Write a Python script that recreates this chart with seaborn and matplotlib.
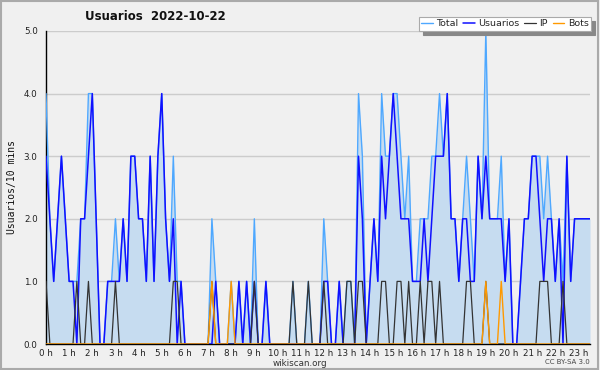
import numpy as np
import pandas as pd
import seaborn as sns
import matplotlib
matplotlib.use("Agg")
import matplotlib.pyplot as plt
from matplotlib.ticker import MultipleLocator, FixedLocator

# values per 10-minute slot
total = [4, 2, 1, 2, 3, 2, 1, 1, 1, 2,
         2, 4, 4, 2, 0, 0, 1, 1, 2, 1,
         2, 1, 3, 3, 2, 2, 1, 3, 1, 3,
         4, 2, 1, 3, 1, 1, 0, 0, 0, 0,
         0, 0, 0, 2, 1, 0, 0, 0, 1, 0,
         1, 0, 1, 0, 2, 0, 0, 1, 0, 0,
         0, 0, 0, 0, 1, 0, 0, 0, 1, 0,
         0, 0, 2, 1, 0, 0, 1, 0, 1, 1,
         0, 4, 3, 0, 1, 2, 1, 4, 3, 3,
         4, 4, 3, 2, 3, 1, 1, 2, 2, 2,
         3, 3, 4, 3, 4, 2, 2, 1, 2, 3,
         2, 1, 3, 2, 5, 2, 2, 2, 3, 1,
         2, 0, 0, 1, 2, 2, 3, 3, 3, 2,
         3, 2, 1, 2, 1, 3, 1, 2, 2, 2,
         2, 2]
usuarios = [3, 2, 1, 2, 3, 2, 1, 1, 0, 2,
            2, 3, 4, 2, 0, 0, 1, 1, 1, 1,
            2, 1, 3, 3, 2, 2, 1, 3, 1, 3,
            4, 2, 1, 2, 0, 1, 0, 0, 0, 0,
            0, 0, 0, 0, 1, 0, 0, 0, 0, 0,
            1, 0, 1, 0, 1, 0, 0, 1, 0, 0,
            0, 0, 0, 0, 0, 0, 0, 0, 0, 0,
            0, 0, 1, 1, 0, 0, 1, 0, 0, 0,
            0, 3, 2, 0, 1, 2, 1, 3, 2, 3,
            4, 3, 2, 2, 2, 1, 1, 1, 2, 1,
            2, 3, 3, 3, 4, 2, 2, 1, 2, 2,
            1, 1, 3, 2, 3, 2, 2, 2, 2, 1,
            2, 0, 0, 1, 2, 2, 3, 3, 2, 1,
            2, 2, 1, 2, 0, 3, 1, 2, 2, 2,
            2, 2]
ip = [1, 0, 0, 0, 0, 0, 0, 0, 1, 0,
      0, 1, 0, 0, 0, 0, 0, 0, 1, 0,
      0, 0, 0, 0, 0, 0, 0, 0, 0, 0,
      0, 0, 0, 1, 1, 0, 0, 0, 0, 0,
      0, 0, 0, 1, 0, 0, 0, 0, 0, 0,
      0, 0, 0, 0, 1, 0, 0, 0, 0, 0,
      0, 0, 0, 0, 1, 0, 0, 0, 1, 0,
      0, 0, 1, 0, 0, 0, 0, 0, 1, 1,
      0, 1, 1, 0, 0, 0, 0, 1, 1, 0,
      0, 1, 1, 0, 1, 0, 0, 1, 0, 1,
      1, 0, 1, 0, 0, 0, 0, 0, 0, 1,
      1, 0, 0, 0, 1, 0, 0, 0, 0, 0,
      0, 0, 0, 0, 0, 0, 0, 0, 1, 1,
      1, 0, 0, 0, 1, 0, 0, 0, 0, 0,
      0, 0]
bots = [0] * 43 + [1, 0, 0, 0, 0, 1] + [0] * 65 + [1, 0, 0, 0, 1] + [0] * 23

hour_labels = [f"{h} h" for h in range(24)]

df = pd.DataFrame({"slot": np.arange(len(total)), "Total": total,
                   "Usuarios": usuarios, "IP": ip, "Bots": bots})

sns.set_style("white")
plt.rcParams["font.family"] = ["DejaVu Sans"]

bg = "#f0f0f0"
fig = plt.figure(figsize=(6, 3.7), dpi=100, facecolor=bg)
ax = fig.add_axes([46 / 600, 26 / 370, 544 / 600, 313 / 370])
ax.set_facecolor(bg)

ax.fill_between(df["slot"], df["Total"], 0, color="#c6dcf0", linewidth=0, zorder=1)
sns.lineplot(data=df, x="slot", y="Total", ax=ax, color="#4ea8ff", linewidth=1, label="Total", zorder=3)
sns.lineplot(data=df, x="slot", y="Usuarios", ax=ax, color="#1010ff", linewidth=1.1, label="Usuarios", zorder=4)
sns.lineplot(data=df, x="slot", y="IP", ax=ax, color="#333333", linewidth=0.9, label="IP", zorder=5)
sns.lineplot(data=df, x="slot", y="Bots", ax=ax, color="#ff9900", linewidth=1, label="Bots", zorder=6)

ax.set_xlim(0, len(total) - 1)
ax.set_ylim(0, 5)
ax.xaxis.set_major_locator(FixedLocator(np.arange(0, 24) * 6))
ax.set_xticklabels(hour_labels)
ax.xaxis.set_minor_locator(MultipleLocator(1))
ax.yaxis.set_major_locator(MultipleLocator(1))
ax.yaxis.set_minor_locator(MultipleLocator(0.25))
ax.set_yticklabels([f"{v:.1f}" for v in ax.get_yticks()])
ax.tick_params(axis="both", which="both", direction="out", color="black", width=1,
               labelsize=6.3, labelcolor="#222222", pad=1)
ax.tick_params(axis="x", which="major", length=3.5, pad=0.3)
ax.tick_params(axis="x", which="minor", length=3)
ax.tick_params(axis="y", which="major", length=5)
ax.tick_params(axis="y", which="minor", length=3)
ax.grid(axis="y", color="#cccccc", linewidth=1)
ax.set_axisbelow(True)
for side in ["top", "right"]:
    ax.spines[side].set_visible(False)
for side in ["left", "bottom"]:
    ax.spines[side].set_color("black")
    ax.spines[side].set_linewidth(1)

ax.set_xlabel("")
fig.text(300 / 600, 1 - 363 / 370, "wikiscan.org", fontsize=6.3, color="#333333",
         ha="center", va="center")
ax.set_ylabel("Usuarios/10 mins", fontsize=7, family="DejaVu Sans Mono", color="#111111", labelpad=5)
fig.text(85 / 600, 1 - 17 / 370, "Usuarios  2022-10-22", fontsize=8.5, fontweight="bold",
         ha="left", va="center", color="#111111")
fig.text(590 / 600, 1 - 362 / 370, "CC BY-SA 3.0", fontsize=5, ha="right", va="center", color="#444444")

leg = ax.legend(loc="upper right", bbox_to_anchor=(1.002, 1.045), ncol=4, fontsize=6.8,
                frameon=True, fancybox=False,
                shadow={"color": "#888888", "alpha": 1, "ox": 3, "oy": -3},
                handlelength=1.2, handletextpad=0.4, columnspacing=0.5,
                borderpad=0.25, borderaxespad=0)
leg.get_frame().set_facecolor("white")
leg.get_frame().set_edgecolor("#aaaaaa")
leg.get_frame().set_linewidth(0.8)

fig.patches.append(plt.Rectangle((0.002, 0.003), 0.995, 0.994, transform=fig.transFigure,
                                 fill=False, edgecolor="#aaaaaa", linewidth=1.5))

fig.savefig("out.png", dpi=100, facecolor=bg)
